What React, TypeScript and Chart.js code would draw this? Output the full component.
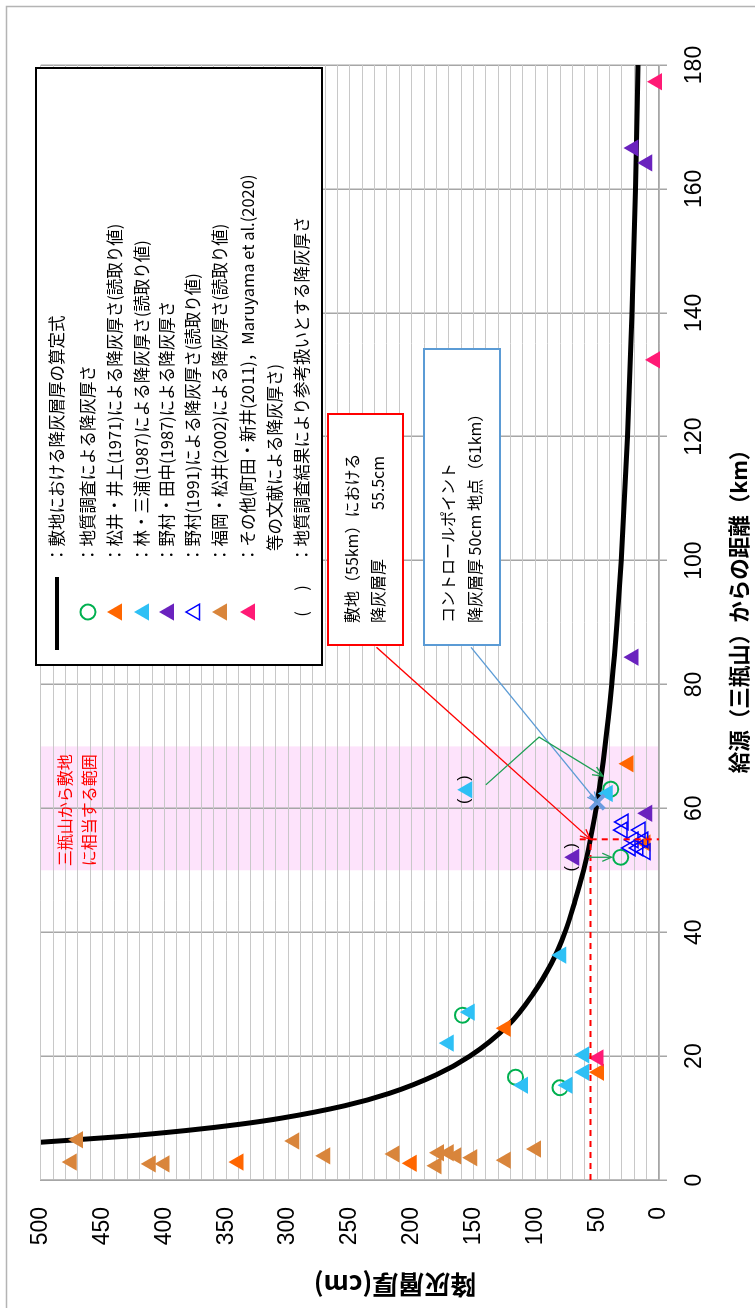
import React, { useEffect, useRef } from 'react';
import { Chart, registerables } from 'chart.js';

Chart.register(...registerables);

// ---- canvas (drawn in the chart's own orientation, then turned 90° CCW) ----
const W = 1308;
const H = 755;

// ---- axes ----
const distanceMin = 0;
const distanceMax = 180;
const distanceStep = 20;
const thicknessMin = 0;
const thicknessMax = 500;
const thicknessStep = 10;
const thicknessLabelStep = 50;

// ---- series: distance (km) / thickness (cm) ----
const curveKm = [6.1, 7, 8, 9, 10, 12, 14, 17, 20, 25, 30, 35, 40, 45, 50, 55, 61, 70, 80, 90, 100, 120, 140, 160, 180];
const curveCm = [500, 436, 382, 339, 305, 254, 218, 180, 153, 122, 102, 87, 76, 68, 61, 55.5, 50, 43.6, 38.2, 33.9, 30.5, 25.4, 21.8, 19.1, 17.0];

const surveyKm = [26.6, 16.6, 14.9, 63.1, 52.1];
const surveyCm = [159, 116, 80, 39, 31];

const matsuiKm = [2.9, 2.7, 24.5, 17.4, 67.2, 54.4];
const matsuiCm = [340, 200, 124, 48.6, 24.7, 11];

const hayashiKm = [63.0, 62.4, 36.3, 22.1, 27.1, 15.3, 15.3, 20.2, 17.4];
const hayashiCm = [155, 41.4, 79, 170, 153, 110, 74, 60.5, 60.5];

const nomuraTanakaKm = [84.4, 59.2, 52.1, 166.6, 164.2];
const nomuraTanakaCm = [20.7, 9.6, 68.5, 20.7, 9.6];

const nomura1991Km = [57.8, 56.5, 56.5, 54.9, 54.9, 53.6, 53.6, 53.0];
const nomura1991Cm = [28.7, 29.5, 15, 20.7, 12.7, 23, 16.7, 11];

const fukuokaKm = [6.5, 2.9, 2.6, 2.6, 6.3, 3.9, 4.2, 4.4, 4.4, 2.3, 3.9, 3.6, 3.2, 5.0];
const fukuokaCm = [470, 475, 411, 400, 295, 270, 214, 178, 170, 180, 164, 151, 124, 99.5];

const otherKm = [177.3, 132.4, 19.7];
const otherCm = [1.6, 3.2, 49];

const controlKm = [61];
const controlCm = [50];

const siteKm = 55;
const siteCm = 55.5;

const bandKm = [50, 70];

const referenceKm = [52.1, 63.0];
const referenceCm = [68.5, 155];

// ---- text ----
const xTitle = '給源（三瓶山）からの距離（km）';
const yTitle = '降灰層厚(cm)';
const bandText = ['三瓶山から敷地', 'に相当する範囲'];
const siteBoxText = ['敷地（55km）における', '降灰層厚', '55.5cm'];
const controlBoxText = ['コントロールポイント', '降灰層厚 50cm 地点（61km）'];
const legendLabels = [
  '：敷地における降灰層厚の算定式',
  '：地質調査による降灰厚さ',
  '：松井・井上(1971)による降灰厚さ(読取り値)',
  '：林・三浦(1987)による降灰厚さ(読取り値)',
  '：野村・田中(1987)による降灰厚さ',
  '：野村(1991)による降灰厚さ(読取り値)',
  '：福岡・松井(2002)による降灰厚さ(読取り値)',
  '：その他(町田・新井(2011)，Maruyama et al.(2020)',
  '等の文献による降灰厚さ)',
  '：地質調査結果により参考扱いとする降灰厚さ',
];

// ---- colours ----
const C_CURVE = '#000000';
const C_SURVEY = '#00B050';
const C_MATSUI = '#FF6600';
const C_HAYASHI = '#2EC0F5';
const C_NOMURA_T = '#6A22BE';
const C_NOMURA91 = '#0000FF';
const C_FUKUOKA = '#D9853B';
const C_OTHER = '#FF1A75';
const C_CONTROL = '#6C9BE0';
const C_BAND = '#FDE3FB';

const JP = '"Noto Sans CJK JP", "Noto Sans", sans-serif';
const NUM = '"Liberation Sans", Arial, sans-serif';

const pts = (xs: number[], ys: number[]) => xs.map((x, i) => ({ x, y: ys[i] }));

function triangle(ctx: CanvasRenderingContext2D, x: number, y: number, r: number, fill: string | null, stroke: string | null, lw = 1.5) {
  ctx.beginPath();
  ctx.moveTo(x, y - r);
  ctx.lineTo(x + 0.866 * r, y + 0.5 * r);
  ctx.lineTo(x - 0.866 * r, y + 0.5 * r);
  ctx.closePath();
  if (fill) { ctx.fillStyle = fill; ctx.fill(); }
  if (stroke) { ctx.strokeStyle = stroke; ctx.lineWidth = lw; ctx.stroke(); }
}

function arrow(ctx: CanvasRenderingContext2D, path: number[][], color: string, size = 11) {
  ctx.save();
  ctx.strokeStyle = color;
  ctx.lineWidth = 1.3;
  ctx.setLineDash([]);
  ctx.beginPath();
  ctx.moveTo(path[0][0], path[0][1]);
  for (let i = 1; i < path.length; i++) ctx.lineTo(path[i][0], path[i][1]);
  ctx.stroke();
  const [x1, y1] = path[path.length - 2];
  const [x2, y2] = path[path.length - 1];
  const a = Math.atan2(y2 - y1, x2 - x1);
  ctx.beginPath();
  ctx.moveTo(x2 - size * Math.cos(a - 0.42), y2 - size * Math.sin(a - 0.42));
  ctx.lineTo(x2, y2);
  ctx.lineTo(x2 - size * Math.cos(a + 0.42), y2 - size * Math.sin(a + 0.42));
  ctx.stroke();
  ctx.restore();
}

const decorPlugin = {
  id: 'decor',
  beforeDraw(chart: any) {
    const ctx: CanvasRenderingContext2D = chart.ctx;
    const { x } = chart.scales;
    const ca = chart.chartArea;
    ctx.save();
    ctx.fillStyle = '#ffffff';
    ctx.fillRect(0, 0, chart.width, chart.height);
    // outer chart frame
    ctx.strokeStyle = '#B4B4B4';
    ctx.lineWidth = 1.5;
    ctx.beginPath();
    ctx.moveTo(0, 6.5);
    ctx.lineTo(1301.5, 6.5);
    ctx.lineTo(1301.5, chart.height);
    ctx.stroke();
    // site band
    const b0 = x.getPixelForValue(bandKm[0]);
    const b1 = x.getPixelForValue(bandKm[1]);
    ctx.fillStyle = C_BAND;
    ctx.fillRect(b0, ca.top, b1 - b0, ca.bottom - ca.top);
    ctx.restore();
  },
  afterDatasetsDraw(chart: any) {
    const ctx: CanvasRenderingContext2D = chart.ctx;
    const { x, y } = chart.scales;
    const P = (d: number, t: number) => [x.getPixelForValue(d), y.getPixelForValue(t)];
    const ca = chart.chartArea;
    ctx.save();
    // band text
    ctx.fillStyle = '#FF0000';
    ctx.font = `16px ${JP}`;
    ctx.textBaseline = 'middle';
    ctx.textAlign = 'left';
    const bx = x.getPixelForValue(bandKm[0]) + 4;
    ctx.fillText(bandText[0], bx, ca.top + 24);
    ctx.fillText(bandText[1], bx, ca.top + 48);

    // red dashed guide lines
    ctx.strokeStyle = '#FF0000';
    ctx.lineWidth = 2;
    ctx.setLineDash([6, 5]);
    ctx.beginPath();
    const [sx, sy] = P(siteKm, siteCm);
    ctx.moveTo(x.getPixelForValue(0), sy);
    ctx.lineTo(sx, sy);
    ctx.moveTo(sx, y.getPixelForValue(64));
    ctx.lineTo(sx, y.getPixelForValue(0));
    ctx.stroke();
    ctx.setLineDash([]);

    // annotation arrows
    arrow(ctx, [P(86.0, 228.5), P(siteKm, siteCm)], '#FF0000');
    arrow(ctx, [P(86.0, 152), P(controlKm[0], controlCm[0])], '#5B9BD5');
    arrow(ctx, [P(63.8, 140), P(71.5, 97), P(65.2, 45.4)], '#1FA055');
    arrow(ctx, [P(52.1, 57.3), P(52.1, 38.5)], '#1FA055', 10);

    // brackets around reference-only points
    ctx.fillStyle = '#000';
    ctx.font = `16px ${NUM}`;
    ctx.textAlign = 'center';
    referenceKm.forEach((d, i) => {
      const [px, py] = P(d, referenceCm[i]);
      ctx.fillText('(    )', px, py - 3);
    });
    ctx.restore();
  },
  afterDraw(chart: any) {
    const ctx: CanvasRenderingContext2D = chart.ctx;
    ctx.save();
    ctx.textBaseline = 'middle';
    ctx.textAlign = 'left';

    // axis titles
    ctx.fillStyle = '#000';
    ctx.font = `bold 21.5px ${JP}`;
    ctx.textAlign = 'center';
    ctx.fillText(xTitle, 702, 739);
    ctx.save();
    ctx.translate(23, 395);
    ctx.rotate(-Math.PI / 2);
    ctx.font = `bold 26px ${JP}`;
    ctx.fillText(yTitle, 0, 0);
    ctx.restore();
    ctx.textAlign = 'left';

    // legend box
    const L = { x0: 643, x1: 1240, y0: 36, y1: 322 };
    ctx.fillStyle = '#fff';
    ctx.fillRect(L.x0, L.y0, L.x1 - L.x0, L.y1 - L.y0);
    ctx.strokeStyle = '#000';
    ctx.lineWidth = 2;
    ctx.strokeRect(L.x0, L.y0, L.x1 - L.x0, L.y1 - L.y0);
    const rows = [57, 88, 115, 142, 167, 193, 220, 248, 275, 302];
    const mx = 696;
    // line symbol
    ctx.strokeStyle = C_CURVE;
    ctx.lineWidth = 4;
    ctx.beginPath();
    ctx.moveTo(658, rows[0]);
    ctx.lineTo(731, rows[0]);
    ctx.stroke();
    // circle
    ctx.strokeStyle = C_SURVEY;
    ctx.lineWidth = 2;
    ctx.beginPath();
    ctx.arc(mx, rows[1], 7.5, 0, Math.PI * 2);
    ctx.stroke();
    triangle(ctx, mx, rows[2] + 2, 10, C_MATSUI, null);
    triangle(ctx, mx, rows[3] + 2, 10, C_HAYASHI, null);
    triangle(ctx, mx, rows[4] + 2, 10, C_NOMURA_T, null);
    triangle(ctx, mx, rows[5] + 2, 9, null, C_NOMURA91, 1.5);
    triangle(ctx, mx, rows[6] + 2, 10, C_FUKUOKA, null);
    triangle(ctx, mx, rows[7] + 2, 10, C_OTHER, null);
    ctx.fillStyle = '#000';
    ctx.font = `16.5px ${JP}`;
    legendLabels.forEach((t, i) => {
      const tx = i === 8 ? 757 : 745;
      ctx.fillText(t, tx, rows[i]);
    });
    ctx.textAlign = 'center';
    ctx.fillText('(', 694, rows[9]);
    ctx.fillText(')', 720, rows[9]);
    ctx.textAlign = 'left';

    // site box (red)
    ctx.fillStyle = '#fff';
    ctx.fillRect(663, 328, 231, 75);
    ctx.strokeStyle = '#FF0000';
    ctx.lineWidth = 2;
    ctx.strokeRect(663, 328, 231, 75);
    ctx.fillStyle = '#000';
    ctx.font = `16px ${JP}`;
    ctx.fillText(siteBoxText[0], 685, 352);
    ctx.fillText(siteBoxText[1], 685, 378);
    ctx.fillText(siteBoxText[2], 798, 378);

    // control point box (blue)
    ctx.fillStyle = '#fff';
    ctx.fillRect(663, 424, 296, 76);
    ctx.strokeStyle = '#5B9BD5';
    ctx.lineWidth = 2;
    ctx.strokeRect(663, 424, 296, 76);
    ctx.fillStyle = '#000';
    ctx.fillText(controlBoxText[0], 685, 448);
    ctx.fillText(controlBoxText[1], 685, 475);
    ctx.restore();
  },
};

export default function App() {
  const ref = useRef<HTMLCanvasElement>(null);
  useEffect(() => {
    document.body.style.margin = '0';
    document.body.style.overflow = 'hidden';
    const canvas = ref.current;
    if (!canvas) return;
    const tri = (data: any, color: string, extra: any = {}) => ({
      data,
      pointStyle: 'triangle',
      pointRadius: 10,
      pointHoverRadius: 10,
      backgroundColor: color,
      borderColor: color,
      borderWidth: 0,
      showLine: false,
      clip: false,
      order: 1,
      ...extra,
    });
    const chart = new Chart(canvas, {
      type: 'scatter',
      data: {
        datasets: [
          {
            label: 'control',
            data: pts(controlKm, controlCm),
            pointStyle: 'crossRot',
            pointRadius: 10,
            pointHoverRadius: 10,
            borderColor: C_CONTROL,
            backgroundColor: C_CONTROL,
            borderWidth: 4,
            showLine: false,
            clip: false,
            order: 0,
          } as any,
          tri(pts(otherKm, otherCm), C_OTHER),
          tri(pts(fukuokaKm, fukuokaCm), C_FUKUOKA),
          tri(pts(nomura1991Km, nomura1991Cm), C_NOMURA91, {
            backgroundColor: 'rgba(0,0,0,0)',
            borderWidth: 1.5,
            pointRadius: 9,
            pointHoverRadius: 9,
          }),
          tri(pts(nomuraTanakaKm, nomuraTanakaCm), C_NOMURA_T),
          tri(pts(hayashiKm, hayashiCm), C_HAYASHI),
          tri(pts(matsuiKm, matsuiCm), C_MATSUI),
          {
            label: 'survey',
            data: pts(surveyKm, surveyCm),
            pointStyle: 'circle',
            pointRadius: 7.5,
            pointHoverRadius: 7.5,
            borderColor: C_SURVEY,
            backgroundColor: 'rgba(0,0,0,0)',
            borderWidth: 2,
            showLine: false,
            clip: false,
            order: 1,
          } as any,
          {
            label: 'curve',
            data: pts(curveKm, curveCm),
            showLine: true,
            borderColor: C_CURVE,
            borderWidth: 5,
            pointRadius: 0,
            pointHoverRadius: 0,
            cubicInterpolationMode: 'monotone',
            clip: 0,
            order: 10,
          } as any,
        ],
      },
      options: {
        animation: false,
        responsive: false,
        maintainAspectRatio: false,
        events: [],
        layout: { padding: { top: 31, right: 65, left: 0, bottom: 0 } },
        plugins: { legend: { display: false }, tooltip: { enabled: false }, title: { display: false } },
        scales: {
          x: {
            type: 'linear',
            min: distanceMin,
            max: distanceMax,
            ticks: {
              stepSize: distanceStep,
              maxRotation: 0,
              color: '#000',
              padding: 14,
              font: { family: NUM, size: 23 },
            },
            grid: { color: '#A6A6A6', lineWidth: 1.5, tickLength: 8, drawTicks: true, tickColor: '#A6A6A6' },
            border: { display: true, color: '#A6A6A6', width: 1.5 },
            afterFit: (s: any) => { s.height = 96; },
          },
          y: {
            type: 'linear',
            min: thicknessMin,
            max: thicknessMax,
            ticks: {
              stepSize: thicknessStep,
              maxTicksLimit: 100,
              autoSkip: false,
              color: '#000',
              padding: 27,
              font: { family: NUM, size: 23 },
              callback: (v: any) => (Number(v) % thicknessLabelStep === 0 ? String(v) : ''),
            },
            grid: { color: '#C8C8C8', lineWidth: 1, drawTicks: false },
            border: { display: true, color: '#A6A6A6', width: 1.5 },
            afterFit: (s: any) => { s.width = 128; },
          },
        },
      } as any,
      plugins: [decorPlugin],
    });
    return () => chart.destroy();
  }, []);

  return (
    <div
      style={{
        position: 'absolute',
        left: 0,
        top: 0,
        width: W,
        height: H,
        transformOrigin: '0 0',
        transform: `translate(0px, ${W}px) rotate(-90deg)`,
        background: '#fff',
      }}
    >
      <canvas ref={ref} width={W} height={H} style={{ display: 'block', width: W, height: H }} />
    </div>
  );
}
